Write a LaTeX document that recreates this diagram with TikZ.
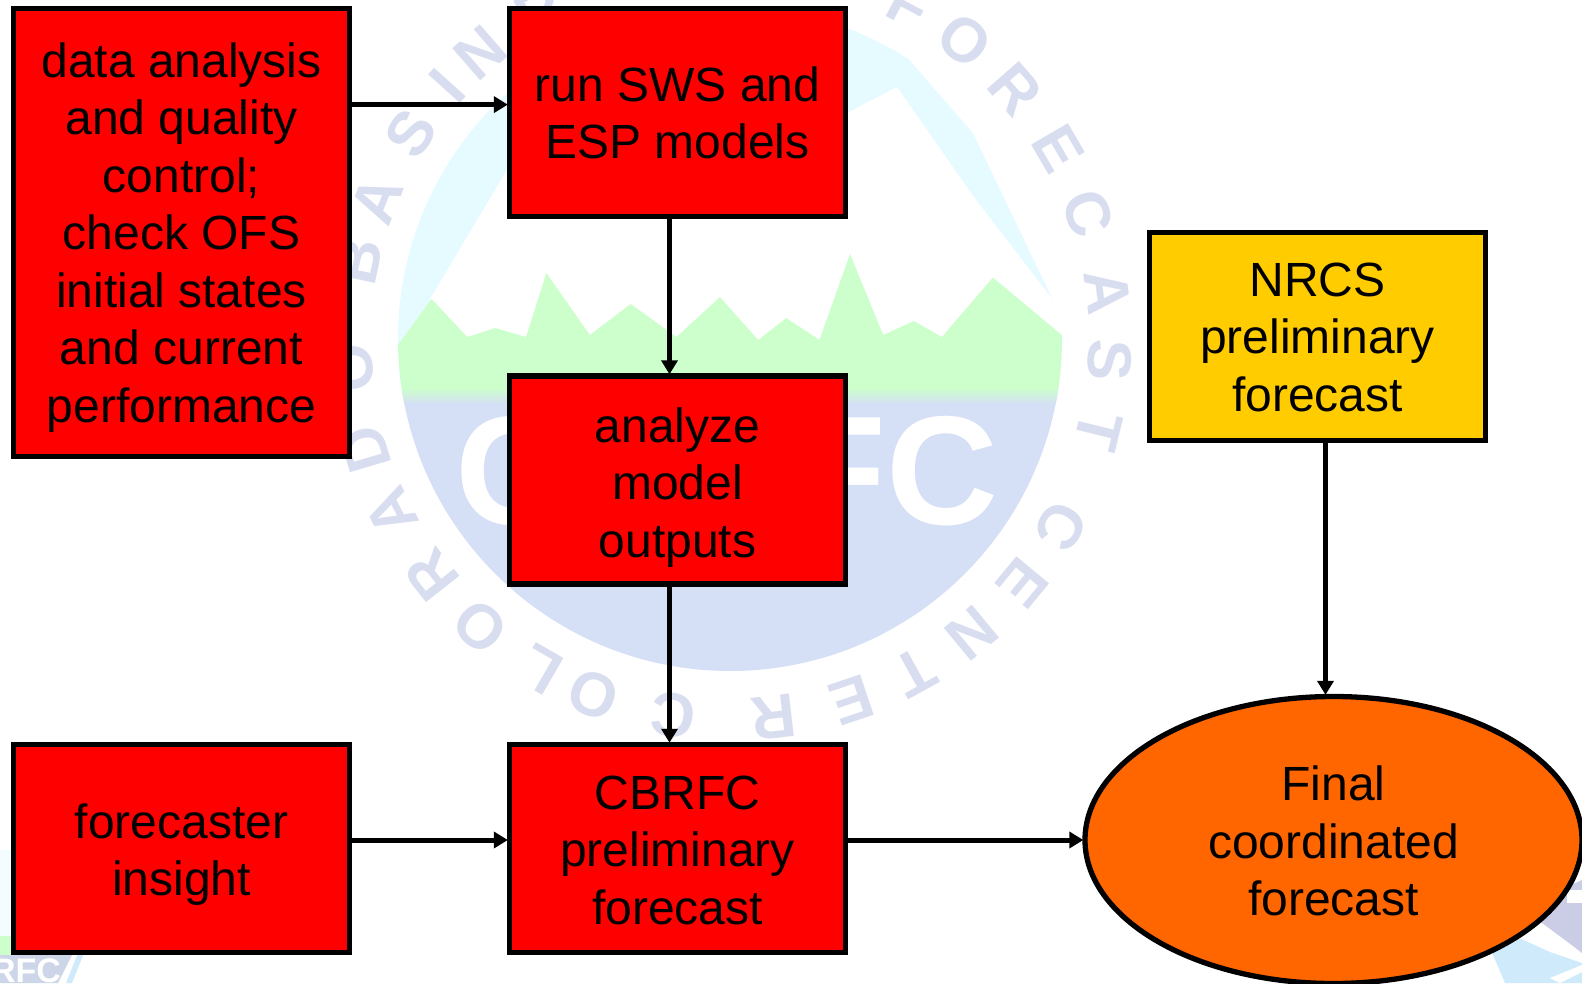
\documentclass[tikz,border=0pt]{standalone}
\usepackage{fontspec}
\setmainfont{Liberation Sans}
\usetikzlibrary{arrows.meta,shapes.geometric}
\definecolor{boxred}{HTML}{FF0000}
\definecolor{boxyellow}{HTML}{FFCC00}
\definecolor{boxorange}{HTML}{FF6600}
\definecolor{logosky}{HTML}{E6FBFF}
\definecolor{logogreen}{HTML}{CCFFCC}
\definecolor{logoblue}{HTML}{D5DFF5}
\definecolor{logoletter}{HTML}{D8DEF0}
\definecolor{logolav}{HTML}{CBCCE6}
\definecolor{logopale}{HTML}{CFEBFB}
\newcommand{\textdrop}[1]{\rule{0pt}{#1}}
\begin{document}
\begin{tikzpicture}[x=1pt,y=-1pt,
    flowbox/.style={draw=black, line width=5.3pt, fill=boxred, minimum width=336pt, minimum height=208pt, inner sep=0pt, align=center, font=\fontsize{48}{57.5}\selectfont},
    flowarrow/.style={draw=black, line width=5pt, -{Triangle[length=14pt,width=16pt]}, shorten >=-1pt},
    logotext/.style={text=logoletter, font=\fontsize{62}{62}\selectfont\bfseries, inner sep=0pt}]

    \useasboundingbox (0,0) rectangle (1582,983);

    % Faint logo behind the chart
    \coordinate (logocenter) at (730,340);
    \begin{scope}
        \clip (730,339) circle (332pt);
        \fill[logosky] (390,0) rectangle (1070,400);
        \fill[white] (430,299) -- (507,170) -- (847,113) -- (897,87) -- (973,196) -- (1053,300) -- (1070,300) -- (1070,400) -- (430,400) -- cycle;
        \fill[white] (907,57) -- (973,133) -- (1053,300) -- (1070,300) -- (1070,40) -- cycle;
        \fill[logogreen] (390,344) -- (398.5,344) -- (431.6,299) -- (467.3,337) -- (495.4,328) -- (526,337) -- (546.4,273) -- (589.8,335) -- (630.6,304) -- (676.5,337) -- (719.9,297) -- (758.2,340) -- (786.2,318) -- (819.4,340) -- (850,254) -- (883.2,335) -- (913.8,321) -- (941.8,337) -- (992.9,277.5) -- (1061.7,335) -- (1070,335) -- (1070,395) -- (390,395) -- cycle;
        \fill[logoblue] (390,395) rectangle (1070,680);
        \shade[top color=logogreen, bottom color=logoblue] (390,388) rectangle (1070,404);
    \end{scope}
    \node (logoword) at (727,471) [text=white, inner sep=0pt, font=\fontsize{155}{155}\selectfont\bfseries] {CBRFC};

    % Letters on the ring
    \foreach \ltr/\ang [count=\i] in {C/261.4, O/249, L/240, O/228.9, R/218.3, A/207, D/196.7, O/184.3, B/168, A/158.3, S/147, I/138, N/131, R/120, F/61.8, O/51.9, R/41.3, E/30.2, C/19.5, A/7.2, S/-3, T/-13.8, C/-29.4, E/-39.7, N/-50.4, T/-61, E/-71.4, R/-83.4}
        \path (logocenter) ++(-\ang:380) node (ring\i) [logotext, rotate=\ang-90] {\ltr};

    % Bits of the logo in the corners
    \fill[logosky!50!white] (0,850) rectangle (11,936);
    \fill[logogreen] (0,936) rectangle (11,955);
    \fill[logoblue!90!gray] (0,955) -- (72,955) -- (58,983) -- (0,983) -- cycle;
    \node (cornerword) at (26,971) [text=white, inner sep=0pt, font=\fontsize{34}{34}\selectfont\bfseries] {RFC};
    \fill[logopale] (78,953) -- (84,953) -- (72,983) -- (66,983) -- cycle;
    \fill[logolav] (1582,880) -- (1560,890) -- (1530,915) -- (1542,923) -- (1565,940) -- (1582,953) -- cycle;
    \fill[white] (1567,890) rectangle (1582,903);
    \fill[logopale] (1490,948) -- (1519,938) -- (1550,952) -- (1582,963) -- (1582,983) -- (1505,983) -- cycle;
    \fill[white] (1550,978) -- (1582,965) -- (1582,972) -- (1560,983) -- cycle;

    % Left column
    \node (databox) at (181.4,232.6) [flowbox, minimum height=447.8pt] {\textdrop{44pt}data analysis\\and quality\\control;\\check OFS\\initial states\\and current\\performance};
    \node (insightbox) at (181.4,848.4) [flowbox] {\textdrop{47pt}forecaster\\insight};

    % Middle column
    \node (runbox) at (677.5,112.6) [flowbox] {run SWS and\\ESP models};
    \node (analyzebox) at (677.5,480) [flowbox] {\textdrop{49pt}analyze\\model\\outputs};
    \node (cbrfcbox) at (677.5,848.4) [flowbox] {\textdrop{37pt}CBRFC\\preliminary\\forecast};

    % Right column
    \node (nrcsbox) at (1317.5,336.6) [flowbox, fill=boxyellow] {\textdrop{35pt}NRCS\\preliminary\\forecast};
    \node (finalnode) at (1333.5,840) [flowbox, ellipse, fill=boxorange, minimum width=497pt, minimum height=287pt] {\textdrop{37pt}Final\\coordinated\\forecast};

    % Entry points that sit off the middle of a box
    \coordinate (runin) at ([yshift=8pt]runbox.west);
    \coordinate (cbrfcin) at (cbrfcbox.west |- finalnode.west);

    % Arrows
    \draw[flowarrow] (databox.east |- runin) -- (runin);
    \draw[flowarrow] ([xshift=-8pt]runbox.south) -- ([xshift=-8pt]analyzebox.north);
    \draw[flowarrow] ([xshift=-8pt]analyzebox.south) -- ([xshift=-8pt]cbrfcbox.north);
    \draw[flowarrow] (insightbox.east |- cbrfcin) -- (cbrfcin);
    \draw[flowarrow] (cbrfcbox.east |- finalnode.west) -- (finalnode.west);
    \draw[flowarrow] ([xshift=8pt]nrcsbox.south) -- ([xshift=-8pt]finalnode.north);

\end{tikzpicture}
\end{document}
